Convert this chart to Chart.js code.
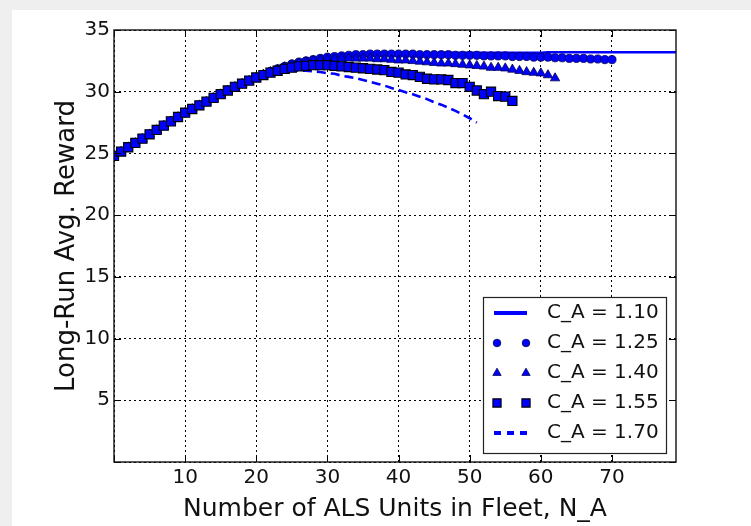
<!DOCTYPE html>
<html><head><meta charset="utf-8">
<script src="https://cdn.jsdelivr.net/npm/chart.js@4.4.0/dist/chart.umd.min.js"></script>
<style>
html,body{margin:0;padding:0;background:#efefef;overflow:hidden;}
#panel{position:absolute;left:12px;top:10px;width:739px;height:516px;background:#fff;}
#wrap{position:absolute;left:0;top:0;width:751px;height:526px;}
</style></head><body>
<div id="panel"></div>
<div id="wrap"><canvas id="c" width="751" height="526"></canvas></div>
<script>
// N_A values (x)
const nA = [0,1,2,3,4,5,6,7,8,9,10,11,12,13,14,15,16,17,18,19,20,21,22,23,24,25,26,27,28,29,30,31,32,33,34,35,36,37,38,39,40,41,42,43,44,45,46,47,48,49,50,51,52,53,54,55,56,57,58,59,60,61,62,63,64,65,66,67,68,69,70,71,72,73,74,75,76,77,78,79];

const seriesLabels = ['C_A = 1.10','C_A = 1.25','C_A = 1.40','C_A = 1.55','C_A = 1.70'];

const rewardCA110 = [24.8,25.15,25.5,25.85,26.2,26.55,26.9,27.25,27.6,27.95,28.3,28.6,28.9,29.2,29.5,29.8,30.1,30.4,30.65,30.9,31.15,
 31.4,31.65,31.85,32.05,32.25,32.4,32.55,32.65,32.75,32.85,32.9,32.95,33.0,33.05,33.05,33.1,33.1,33.1,33.1,33.1,33.1,33.1,33.1,33.1,33.1,
 33.15,33.15,33.15,33.15,33.15,33.15,33.15,33.15,33.15,33.15,33.15,33.15,33.15,33.15,33.15,33.2,33.2,33.2,33.2,33.2,33.2,33.2,33.2,33.2,
 33.2,33.2,33.2,33.2,33.2,33.2,33.2,33.2,33.2,33.2];

const rewardCA125 = [24.8,25.15,25.5,25.85,26.2,26.55,26.9,27.25,27.6,27.95,28.3,28.6,28.9,29.2,29.5,29.8,30.1,30.4,30.65,30.9,31.15,
 31.4,31.65,31.85,32.05,32.25,32.4,32.5,32.6,32.7,32.8,32.85,32.9,32.95,33.0,33.0,33.05,33.05,33.05,33.05,33.05,33.05,33.05,33.0,33.0,33.0,
 33.0,33.0,32.95,32.95,32.95,32.95,32.9,32.9,32.9,32.9,32.85,32.85,32.85,32.8,32.8,32.8,32.75,32.75,32.7,32.7,32.7,32.65,32.65,32.6,32.6];

const rewardCA140 = [24.8,25.15,25.5,25.85,26.2,26.55,26.9,27.25,27.6,27.95,28.3,28.6,28.9,29.2,29.5,29.8,30.1,30.4,30.65,30.9,31.15,
 31.4,31.6,31.8,32.0,32.15,32.3,32.4,32.5,32.55,32.6,32.65,32.7,32.7,32.7,32.7,32.7,32.65,32.65,32.6,32.55,32.55,32.5,32.45,32.4,32.35,
 32.3,32.3,32.25,32.2,32.15,32.1,32.05,31.95,31.95,31.9,31.8,31.7,31.6,31.55,31.5,31.35,31.1];

const rewardCA155 = [24.8,25.15,25.5,25.85,26.2,26.55,26.9,27.25,27.6,27.95,28.3,28.6,28.9,29.2,29.5,29.8,30.1,30.4,30.65,30.9,31.15,
 31.35,31.55,31.7,31.85,31.95,32.05,32.1,32.15,32.15,32.15,32.1,32.05,32.0,31.95,31.9,31.85,31.8,31.75,31.6,31.55,31.4,31.35,31.2,31.05,31.0,
 31.0,30.95,30.7,30.7,30.4,30.1,29.8,30.0,29.65,29.6,29.25];

const rewardCA170 = [24.8,25.15,25.5,25.85,26.2,26.55,26.9,27.25,27.6,27.95,28.3,28.6,28.9,29.2,29.5,29.8,30.1,30.4,30.65,30.9,31.15,
 31.3,31.45,31.55,31.65,31.7,31.7,31.7,31.65,31.6,31.5,31.45,31.3,31.2,31.1,30.95,30.8,30.65,30.5,30.3,30.15,29.95,29.8,29.6,29.4,29.15,
 28.95,28.7,28.45,28.15,27.85,27.5];

const xTickStep = 10, yTickStep = 5;

function pts(ys){ return ys.map((y,i)=>({x:nA[i], y:y})); }

const BLUE = '#0000ff';
const FONT = 'DejaVu Sans';

const datasets = [
  {label:seriesLabels[0], data:pts(rewardCA110), borderColor:BLUE, borderWidth:2.6, pointRadius:0, fill:false, tension:0, order:5},
  {label:seriesLabels[1], data:pts(rewardCA125), showLine:false, pointStyle:'circle', pointRadius:4.1, pointBackgroundColor:BLUE, pointBorderColor:'#000050', pointBorderWidth:0.8, borderColor:BLUE, order:4},
  {label:seriesLabels[2], data:pts(rewardCA140), showLine:false, pointStyle:'triangle', pointRadius:5.4, pointBackgroundColor:BLUE, pointBorderColor:'#000050', pointBorderWidth:0.8, borderColor:BLUE, order:3},
  {label:seriesLabels[3], data:pts(rewardCA155), showLine:false, pointStyle:'rect', pointRadius:6.5, pointBackgroundColor:BLUE, pointBorderColor:'#000', pointBorderWidth:1.1, borderColor:BLUE, order:1},
  {label:seriesLabels[4], data:pts(rewardCA170), borderColor:BLUE, borderWidth:2.6, borderDash:[9,5], pointRadius:0, fill:false, tension:0, order:2}
];

function drawMarker(ctx, style, r, x, y){
  ctx.beginPath();
  if(style==='circle'){ ctx.arc(x,y,r,0,Math.PI*2); }
  else if(style==='triangle'){
    ctx.moveTo(x, y-r);
    ctx.lineTo(x+Math.sin(2*Math.PI/3)*r, y-Math.cos(2*Math.PI/3)*r);
    ctx.lineTo(x+Math.sin(4*Math.PI/3)*r, y-Math.cos(4*Math.PI/3)*r);
    ctx.closePath();
  } else if(style==='rect'){
    const s = Math.SQRT1_2*r; ctx.rect(x-s,y-s,2*s,2*s);
  }
  ctx.fill(); ctx.stroke();
}

const framePlugin = {
  id:'frame',
  afterDraw(chart){
    const ctx = chart.ctx, a = chart.chartArea;
    ctx.save();
    // inward tick marks
    ctx.strokeStyle = '#000'; ctx.lineWidth = 1;
    const xs = chart.scales.x, ys = chart.scales.y, L = 7;
    xs.ticks.forEach(t=>{
      const px = Math.round(xs.getPixelForValue(t.value))+0.5;
      ctx.beginPath(); ctx.moveTo(px,a.bottom); ctx.lineTo(px,a.bottom-L);
      ctx.moveTo(px,a.top); ctx.lineTo(px,a.top+L); ctx.stroke();
    });
    ys.ticks.forEach(t=>{
      const py = Math.round(ys.getPixelForValue(t.value))+0.5;
      ctx.beginPath(); ctx.moveTo(a.left,py); ctx.lineTo(a.left+L,py);
      ctx.moveTo(a.right,py); ctx.lineTo(a.right-L,py); ctx.stroke();
    });
    // frame
    ctx.lineWidth = 1.4; ctx.strokeStyle = '#111';
    ctx.strokeRect(a.left, a.top, a.right-a.left, a.bottom-a.top);

    // legend
    const bw = 183, bh = 156;
    const x0 = a.right - 10 - bw, y0 = a.bottom - 9 - bh;
    ctx.fillStyle = '#fff'; ctx.fillRect(x0,y0,bw,bh);
    ctx.lineWidth = 1.2; ctx.strokeStyle = '#222'; ctx.strokeRect(x0+0.5,y0+0.5,bw,bh);
    chart.data.datasets.forEach((ds,i)=>{
      const cy = y0 + 16 + i*30;
      ctx.save();
      if(ds.showLine === false){
        ctx.fillStyle = ds.pointBackgroundColor; ctx.strokeStyle = ds.pointBorderColor; ctx.lineWidth = ds.pointBorderWidth;
        const r = ds.pointStyle==='rect' ? 5.8 : (ds.pointStyle==='triangle' ? 4.8 : 3.8);
        drawMarker(ctx, ds.pointStyle, r, x0+14, cy);
        drawMarker(ctx, ds.pointStyle, r, x0+43, cy);
      } else {
        ctx.strokeStyle = ds.borderColor; ctx.lineWidth = ds.borderWidth + 1.4;
        ctx.setLineDash(ds.borderDash ? [7,6] : []);
        ctx.beginPath(); ctx.moveTo(x0+11, cy); ctx.lineTo(x0+44, cy); ctx.stroke();
      }
      ctx.restore();
      ctx.fillStyle = '#111'; ctx.font = '20px "' + FONT + '"';
      ctx.textBaseline = 'middle'; ctx.textAlign = 'left';
      ctx.fillText(ds.label, x0+64, cy);
    });
    ctx.restore();
  }
};

new Chart(document.getElementById('c'), {
  type:'line',
  data:{datasets:datasets},
  plugins:[framePlugin],
  options:{
    responsive:false, animation:false, devicePixelRatio:1,
    layout:{padding:{left:0, top:30, right:75, bottom:0}},
    plugins:{legend:{display:false}, tooltip:{enabled:false}},
    scales:{
      x:{type:'linear', min:0, max:79,
        ticks:{stepSize:xTickStep, includeBounds:false, color:'#111', font:{family:FONT, size:20}, padding:4, maxRotation:0, autoSkip:false,
          callback:(v)=> v===0 ? '' : String(v)},
        grid:{color:'#000', lineWidth:1, drawTicks:false},
        border:{display:false, dash:[2,3]},
        title:{display:true, text:'Number of ALS Units in Fleet, N_A', color:'#111', font:{family:FONT, size:25}, padding:{top:0, bottom:2}},
        afterFit:(s)=>{ s.height = 64; }
      },
      y:{type:'linear', min:0, max:35,
        ticks:{stepSize:yTickStep, includeBounds:false, color:'#111', font:{family:FONT, size:20}, padding:4,
          callback:(v)=> v===0 ? '' : String(v)},
        grid:{color:'#000', lineWidth:1, drawTicks:false},
        border:{display:false, dash:[2,3]},
        title:{display:true, text:'Long-Run Avg. Reward', color:'#111', font:{family:FONT, size:26}, padding:{top:52, bottom:0}},
        afterFit:(s)=>{ s.width = 114; }
      }
    }
  }
});
</script>
</body></html>
